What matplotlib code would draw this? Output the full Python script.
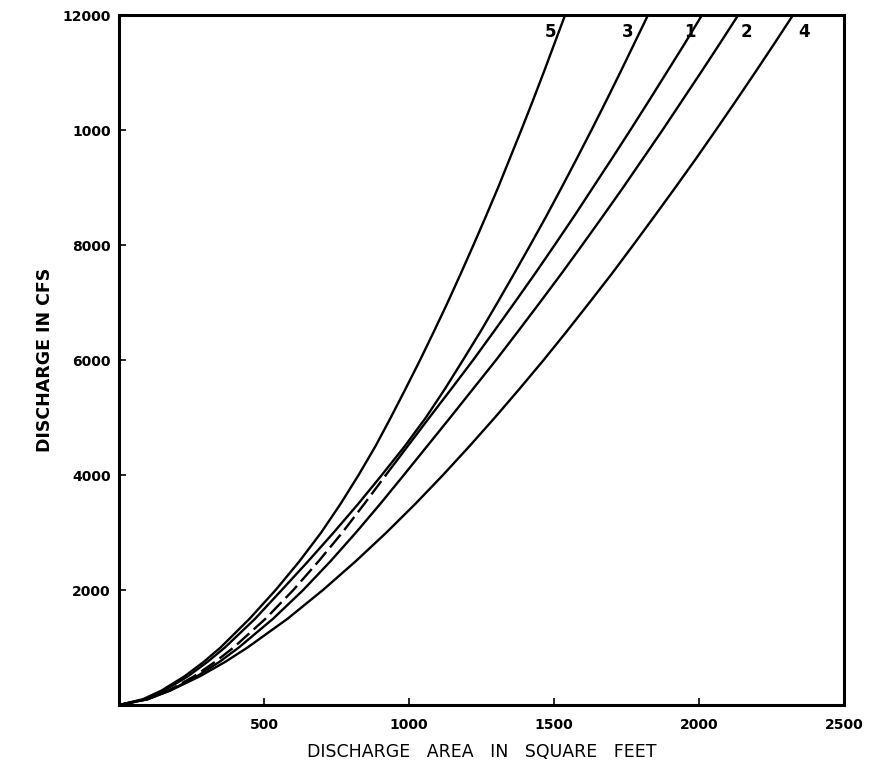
import matplotlib
matplotlib.use("Agg")
import matplotlib.pyplot as plt

# Discharge (cfs) levels at which the curves were read
discharge = [0, 100, 250, 500, 750, 1000, 1500, 2000, 2500, 3000, 3500, 4000,
             4500, 5000, 5500, 6000, 6500, 7000, 7500, 8000, 8500, 9000,
             9500, 10000, 10500, 11000, 11500, 12000]

# Discharge area (sq ft) for each curve at those discharge levels
area_curve5 = [0, 82, 146, 226, 292, 350, 450, 540, 622, 697, 764, 826,
               884, 937, 988, 1038, 1086, 1133, 1178, 1222, 1265, 1307,
               1347, 1387, 1426, 1464, 1501, 1538]
area_curve3 = [0, 88, 155, 238, 305, 365, 469, 561, 652, 740, 825, 906,
               985, 1058, 1124, 1186, 1247, 1305, 1362, 1418, 1473, 1526,
               1578, 1629, 1679, 1728, 1776, 1824]
area_curve1 = [0, 98, 170, 259, 331, 395, 505, 601, 688, 770, 846, 920,
               995, 1070, 1146, 1221, 1293, 1364, 1434, 1502, 1569, 1634,
               1699, 1763, 1826, 1888, 1950, 2010]
area_curve2 = [0, 99, 175, 269, 346, 413, 531, 635, 729, 817, 901, 982,
               1062, 1142, 1221, 1300, 1376, 1451, 1525, 1597, 1668, 1738,
               1806, 1874, 1940, 2006, 2071, 2135]
area_curve4 = [0, 95, 176, 279, 366, 443, 581, 703, 816, 922, 1022, 1117,
               1208, 1296, 1381, 1464, 1544, 1622, 1699, 1773, 1846, 1918,
               1989, 2058, 2126, 2193, 2259, 2324]

curve_labels = ["5", "3", "1", "2", "4"]
label_x = [1486, 1755, 1969, 2165, 2362]
label_y = 11700

xticks = [500, 1000, 1500, 2000, 2500]
xtick_labels = ["500", "1000", "1500", "2000", "2500"]
yticks = [2000, 4000, 6000, 8000, 10000, 12000]
ytick_labels = ["2000", "4000", "6000", "8000", "1000", "12000"]

fig = plt.figure(figsize=(8.72, 7.75), dpi=100)
ax = fig.add_axes([0.1365, 0.0903, 0.8315, 0.8903])

lw = 1.7
ax.plot(area_curve5, discharge, color="black", lw=lw)
ax.plot(area_curve3, discharge, color="black", lw=lw)
# curve 1: solid in upper part, dashed in lower part
split = discharge.index(4000)
ax.plot(area_curve1[split:], discharge[split:], color="black", lw=lw)
ax.plot(area_curve1[:split + 1], discharge[:split + 1], color="black", lw=lw,
        linestyle=(0, (7, 2.5)))
ax.plot(area_curve2, discharge, color="black", lw=lw)
ax.plot(area_curve4, discharge, color="black", lw=lw)

for lab, lx in zip(curve_labels, label_x):
    ax.text(lx, label_y, lab, fontsize=12, fontweight="bold", ha="center",
            va="center", color="black")

ax.set_xlim(0, 2500)
ax.set_ylim(0, 12000)
ax.set_xticks(xticks)
ax.set_xticklabels(xtick_labels)
ax.set_yticks(yticks)
ax.set_yticklabels(ytick_labels)
ax.tick_params(axis="both", direction="in", length=5, width=1.2, color="black")
ax.tick_params(axis="x", pad=9, labelsize=10)
ax.tick_params(axis="y", pad=6, labelsize=10)
for t in ax.get_xticklabels() + ax.get_yticklabels():
    t.set_fontweight("bold")

for s in ax.spines.values():
    s.set_linewidth(2.2)
    s.set_color("black")

ax.set_xlabel("DISCHARGE   AREA   IN   SQUARE   FEET", fontsize=12.5, labelpad=8)
ax.set_ylabel("DISCHARGE IN CFS", fontsize=12.5, fontweight="bold", labelpad=6)

fig.savefig("out.png", dpi=100)
